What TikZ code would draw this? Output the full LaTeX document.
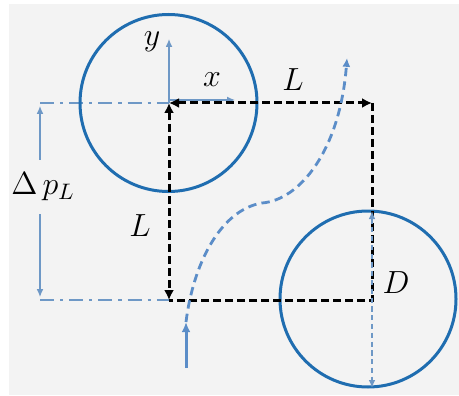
\RequirePackage{fix-cm}
\documentclass[tikz,border=0pt]{standalone}
\usetikzlibrary{arrows.meta}
\definecolor{ringblue}{HTML}{1F6DB0}
\definecolor{flowblue}{HTML}{5B8DC8}
\definecolor{axisblue}{HTML}{6E98C6}
\definecolor{panel}{HTML}{F3F3F3}
\tikzset{>=Latex,
  every node/.style={font=\fontsize{16}{18}\selectfont},
  ring/.style={draw=ringblue,line width=1.5pt},
  track/.style={draw=black,line width=1.5pt,dash pattern=on 3.8pt off 2.2pt,
    arrows={Latex[length=5pt,width=5pt]-Latex[length=5pt,width=5pt]}},
  flow/.style={draw=flowblue,line width=1.4pt,dash pattern=on 4.2pt off 2.6pt},
  refline/.style={draw=axisblue,line width=1.1pt,dash pattern=on 7pt off 3pt on 1.6pt off 3pt},
  axis/.style={-{Latex[length=4pt,width=3.4pt]},draw=axisblue,line width=.6pt},
  dimline/.style={draw=axisblue,line width=.7pt,dash pattern=on 2.6pt off 1.8pt,
    arrows={Latex[length=4pt,width=3.4pt]-Latex[length=4pt,width=3.4pt]}}}

\begin{document}
\begin{tikzpicture}[x=0.5pt,y=-0.5pt]
\path[use as bounding box] (0,0) rectangle (459,395);
\fill[panel] (9,4) rectangle (459,395);
\coordinate (O) at (169,103);\coordinate (A) at (372,103);
\coordinate (B) at (372,300);\coordinate (C) at (169,300);
\coordinate (upper) at (168.5,103);\coordinate (lower) at (368,299);
\coordinate (refTop) at (40,103);\coordinate (refBot) at (40,300);
\coordinate (dpUp) at (40,106);\coordinate (dpDown) at (40,297);
\coordinate (yTip) at (169,39);\coordinate (xOrg) at (169,100);\coordinate (xTip) at (235,100);
\coordinate (Dtop) at (372,211);\coordinate (Dbot) at (372,388);
\coordinate (inlet) at (186,368);\coordinate (inTip) at (186,322);
\coordinate (bend) at (262,203);\coordinate (outlet) at (347,58);
\node (dpl) at (43,187) {$\Delta\, p_L$};
\draw[refline] (refTop) -- (O);
\draw[refline] (refBot) -- (C);
\draw[axis] (dpl.north -| refTop) ++(0,-6) -- (dpUp);
\draw[axis] (dpl.south -| refBot) ++(0,6) -- (dpDown);
\draw[axis] (O) -- (yTip);
\draw[axis] (xOrg) -- (xTip);
\draw[ring] (upper) circle (88.5);
\draw[ring] (lower) circle (88);
\draw[track] (O) -- (A);
\draw[track] (O) -- (C);
\draw[track,arrows=-] (A) -- (B) -- (C);
\draw[-{Latex[length=5pt,width=4.4pt]},draw=flowblue,fill=flowblue,line width=1.5pt] (inlet) -- (inTip);
\draw[flow,-{Latex[length=4.4pt,width=4pt]}] (inTip) .. controls (193,265) and (220,210) .. (bend)
  .. controls (300,200) and (340,150) .. (outlet);
\draw[dimline] (Dtop) -- (Dbot);
\node (lTop) at (293,80) {$L$};
\node (lSide) at (140,226) {$L$};
\node (xLab) at (212,80) {$x$};
\node (yLab) at (152,42) {$y$};
\node (dLab) at (396,283) {$D$};
\end{tikzpicture}
\end{document}
